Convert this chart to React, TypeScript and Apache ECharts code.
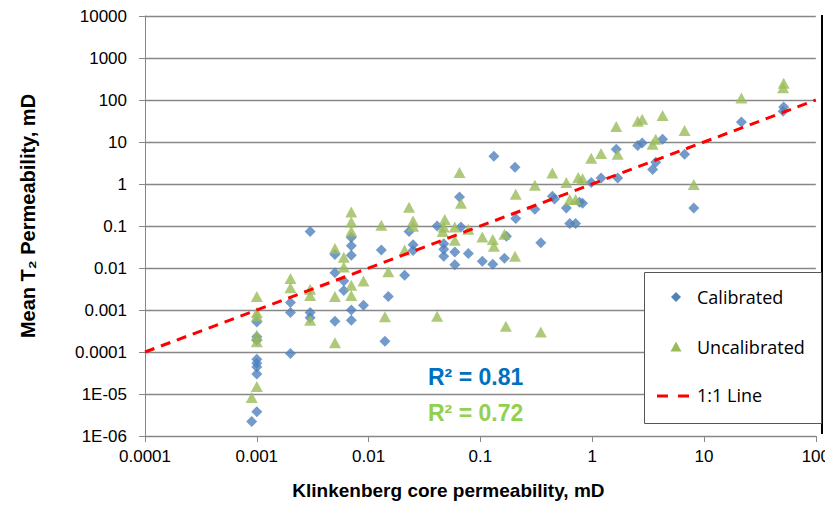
import React, { useEffect, useRef } from "react";
import * as echarts from "echarts";

// ---- data ----
const calibratedX = [
  0.003, 0.001, 0.001, 0.001, 0.001, 0.001, 0.001, 0.001, 0.001, 0.0009,
  0.002, 0.002, 0.002, 0.003, 0.003, 0.005, 0.005, 0.005, 0.006, 0.006,
  0.007, 0.007, 0.007, 0.007, 0.007, 0.009, 0.013, 0.015, 0.014, 0.021,
  0.023, 0.025, 0.025, 0.041, 0.047, 0.047, 0.047, 0.059, 0.059, 0.065,
  0.067, 0.078, 0.104, 0.129, 0.132, 0.164, 0.171, 0.204, 0.207, 0.307,
  0.347, 0.44, 0.46, 0.587, 0.63, 0.71, 0.77, 0.82, 0.98, 1.2,
  1.69, 1.64, 2.55, 2.8, 3.47, 3.7, 4.26, 6.7, 8.1, 21.6,
  51.6, 51,
];
const calibratedY = [
  0.074, 0.00052, 0.00023, 0.00019, 0.000067, 0.000054, 0.000044, 0.00003, 0.0000038, 0.0000022,
  0.0015, 0.00087, 0.000092, 0.00087, 0.00065, 0.021, 0.0077, 0.00054, 0.0049, 0.0029,
  0.053, 0.034, 0.02, 0.001, 0.00057, 0.0013, 0.027, 0.0021, 0.00018, 0.0067,
  0.074, 0.036, 0.026, 0.1, 0.038, 0.028, 0.019, 0.024, 0.012, 0.49,
  0.095, 0.022, 0.0145, 0.0123, 4.6, 0.017, 0.057, 2.5, 0.15, 0.25,
  0.04, 0.51, 0.44, 0.27, 0.114, 0.114, 0.37, 0.35, 1.08, 1.39,
  1.39, 6.7, 8.3, 9.5, 2.2, 3.3, 11.6, 5.1, 0.27, 29.8,
  68, 54,
];
const uncalibratedX = [
  0.001, 0.001, 0.001, 0.001, 0.001, 0.001, 0.0009, 0.002, 0.002, 0.003,
  0.003, 0.003, 0.005, 0.005, 0.005, 0.006, 0.006, 0.007, 0.007, 0.007,
  0.007, 0.007, 0.009, 0.013, 0.015, 0.014, 0.021, 0.023, 0.025, 0.025,
  0.048, 0.047, 0.046, 0.059, 0.059, 0.065, 0.067, 0.078, 0.104, 0.129,
  0.132, 0.164, 0.204, 0.207, 0.041, 0.169, 0.347, 0.307, 0.44, 0.587,
  0.63, 0.71, 0.75, 0.82, 0.98, 1.2, 1.69, 1.64, 3.47, 3.7,
  2.55, 2.8, 4.26, 6.7, 8.1, 21.6, 51.6, 51,
];
const uncalibratedY = [
  0.0021, 0.00087, 0.00072, 0.00025, 0.000175, 0.000015, 0.0000083, 0.0056, 0.0034, 0.0031,
  0.0022, 0.00057, 0.029, 0.0021, 0.000166, 0.018, 0.0106, 0.216, 0.125, 0.075,
  0.0039, 0.0022, 0.0049, 0.104, 0.0081, 0.00069, 0.027, 0.28, 0.132, 0.099,
  0.142, 0.095, 0.074, 0.095, 0.046, 1.87, 0.35, 0.084, 0.055, 0.048,
  0.033, 0.064, 0.019, 0.57, 0.00071, 0.00041, 0.0003, 0.93, 1.83, 1.08,
  0.43, 0.43, 1.42, 1.34, 4.1, 5.3, 5.1, 23.5, 8.8, 11.6,
  31, 34.6, 43, 18.9, 0.97, 111, 252, 196,
];
const oneToOneX = [0.0001, 100];
const oneToOneY = [0.0001, 100];

const xTickLabels = ["0.0001", "0.001", "0.01", "0.1", "1", "10", "100"];
const yTickLabels = ["1E-06", "1E-05", "0.0001", "0.001", "0.01", "0.1", "1", "10", "100", "1000", "10000"];
const seriesNames = ["Calibrated", "Uncalibrated", "1:1 Line"];
const r2Labels = ["R\u00B2 = 0.81", "R\u00B2 = 0.72"];
const xTitle = "Klinkenberg core permeability, mD";
const yTitle = "Mean T\u2082 Permeability, mD";

// decade exponents of the log-scaled axes
const X_MIN_EXP = -4;
const X_MAX_EXP = 2;
const Y_MIN_EXP = -6;
const Y_MAX_EXP = 4;

const BLUE = "#4F81BD";
const GREEN = "#9BBB59";
const AX = "#878787";
const FONT = "'Liberation Sans', Arial, sans-serif";
const LFONT = "'Open Sans', 'Liberation Sans', sans-serif";

// log10 scale: points are placed on value axes counted in decades
const logPairs = (xs: number[], ys: number[]) => xs.map((x, i) => [Math.log10(x), Math.log10(ys[i])]);

export default function App() {
  const ref = useRef<HTMLDivElement>(null);
  useEffect(() => {
    if (!ref.current) return;
    const chart = echarts.init(ref.current, undefined, { renderer: "svg" });
    const option: any = {
      animation: false,
      backgroundColor: "#ffffff",
      grid: { left: 145, right: 15, top: 16, bottom: 77, containLabel: false },
      xAxis: {
        type: "value",
        min: X_MIN_EXP,
        max: X_MAX_EXP,
        interval: 1,
        axisLine: { show: true, onZero: false, lineStyle: { color: AX, width: 1 } },
        axisTick: { show: true, length: 6, lineStyle: { color: AX, width: 1 } },
        splitLine: { show: false },
        axisLabel: {
          margin: 12,
          fontSize: 17,
          fontFamily: FONT,
          color: "#000",
          showMaxLabel: true,
          formatter: (v: number) => xTickLabels[Math.round(v) - X_MIN_EXP] ?? "",
        },
        name: xTitle,
        nameLocation: "middle",
        nameGap: 45,
        nameTextStyle: {
          fontSize: 19,
          fontWeight: "bold",
          fontFamily: FONT,
          color: "#000",
          padding: [0, 64, 0, 0],
        },
      },
      yAxis: {
        type: "value",
        min: Y_MIN_EXP,
        max: Y_MAX_EXP,
        interval: 1,
        axisLine: { show: true, onZero: false, lineStyle: { color: AX, width: 1 } },
        axisTick: { show: true, length: 6, lineStyle: { color: AX, width: 1 } },
        splitLine: { show: true, lineStyle: { color: AX, width: 1.3 } },
        axisLabel: {
          margin: 18,
          fontSize: 17,
          fontFamily: FONT,
          color: "#000",
          formatter: (v: number) => yTickLabels[Math.round(v) - Y_MIN_EXP] ?? "",
        },
        name: yTitle,
        nameLocation: "middle",
        nameGap: 107,
        nameRotate: 90,
        nameTextStyle: {
          fontSize: 20,
          fontWeight: "bold",
          fontFamily: FONT,
          color: "#000",
          padding: [0, 0, 0, 20],
        },
      },
      series: [
        {
          name: seriesNames[0],
          type: "scatter",
          symbol: "diamond",
          symbolSize: 11,
          itemStyle: { color: BLUE },
          data: logPairs(calibratedX, calibratedY),
          z: 2,
        },
        {
          name: seriesNames[1],
          type: "scatter",
          symbol: "triangle",
          symbolSize: [12, 11],
          itemStyle: { color: GREEN },
          data: logPairs(uncalibratedX, uncalibratedY),
          z: 3,
        },
        {
          name: seriesNames[2],
          type: "line",
          symbol: "none",
          showSymbol: false,
          lineStyle: { color: "#FF0000", width: 3, type: [10, 7] },
          data: logPairs(oneToOneX, oneToOneY),
          z: 4,
        },
      ],
      graphic: [
        { type: "line", z: 100, shape: { x1: 822, y1: 15, x2: 822, y2: 434 }, style: { stroke: "#000", lineWidth: 2 } },
        { type: "rect", z: 100, shape: { x: 644.5, y: 272.5, width: 177, height: 151 }, style: { fill: "#fff", stroke: "#555", lineWidth: 1 } },
        { type: "polygon", z: 101, shape: { points: [[676, 292], [681, 297], [676, 302], [671, 297]] }, style: { fill: BLUE } },
        { type: "polygon", z: 101, shape: { points: [[676, 341.5], [681.5, 351.5], [670.5, 351.5]] }, style: { fill: GREEN } },
        { type: "line", z: 101, shape: { x1: 657, y1: 396, x2: 668, y2: 396 }, style: { stroke: "#FF0000", lineWidth: 3 } },
        { type: "line", z: 101, shape: { x1: 678, y1: 396, x2: 689, y2: 396 }, style: { stroke: "#FF0000", lineWidth: 3 } },
        { type: "text", z: 101, x: 697, y: 297, style: { text: seriesNames[0], fill: "#000", font: `18px ${LFONT}`, verticalAlign: "middle" } },
        { type: "text", z: 101, x: 697, y: 347, style: { text: seriesNames[1], fill: "#000", font: `18px ${LFONT}`, verticalAlign: "middle" } },
        { type: "text", z: 101, x: 697, y: 395, style: { text: seriesNames[2], fill: "#000", font: `18px ${LFONT}`, verticalAlign: "middle" } },
        { type: "text", z: 101, x: 428, y: 377, style: { text: r2Labels[0], fill: "#0070C0", font: `bold 23px ${FONT}`, verticalAlign: "middle" } },
        { type: "text", z: 101, x: 428, y: 413, style: { text: r2Labels[1], fill: "#92D050", font: `bold 23px ${FONT}`, verticalAlign: "middle" } },
      ],
    };
    chart.setOption(option);
    return () => chart.dispose();
  }, []);
  return <div ref={ref} style={{ width: 833, height: 513, margin: -8 }} />;
}
